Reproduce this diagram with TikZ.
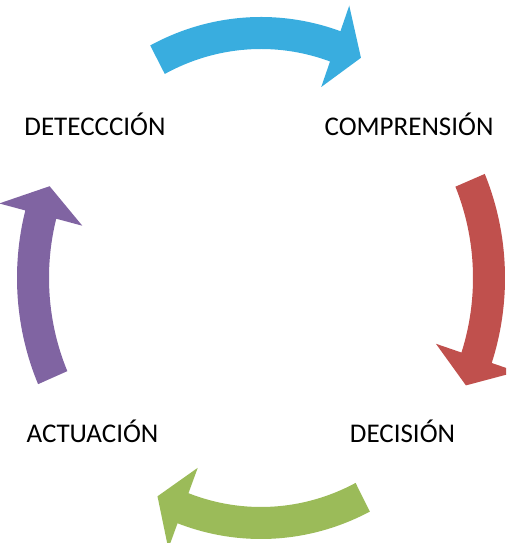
\documentclass[tikz,border=0pt]{standalone}
\usepackage{fontspec}
\setmainfont{Carlito}
\usetikzlibrary{calc}
\definecolor{cycblue}{HTML}{39ADDF}
\definecolor{cycred}{HTML}{C0504D}
\definecolor{cycgreen}{HTML}{9BBB59}
\definecolor{cycpurple}{HTML}{8064A2}
\begin{document}
\begin{tikzpicture}[x=1pt,y=1pt,
  stage/.style={font=\fontsize{27}{31}\selectfont, anchor=base, inner sep=0pt}]
\clip (0,0) rectangle (506,543);
\coordinate (c) at (261,265);

% top arrow
\fill[cycblue] ($(c)+(117:244 and 261)$) arc[start angle=117,end angle=71,x radius=244,y radius=261]
  -- ($(c)+(71:271 and 288)$) -- ($(c)+(64:228 and 245)$) -- ($(c)+(71:185 and 202)$)
  -- ($(c)+(71:212 and 229)$) arc[start angle=71,end angle=117,x radius=212,y radius=229] -- cycle;
% right arrow
\fill[cycred] ($(c)+(23.5:244 and 261)$) arc[start angle=23.5,end angle=-19,x radius=244,y radius=261]
  -- ($(c)+(-19:271 and 288)$) -- ($(c)+(-26:228 and 245)$) -- ($(c)+(-19:185 and 202)$)
  -- ($(c)+(-19:212 and 229)$) arc[start angle=-19,end angle=23.5,x radius=212,y radius=229] -- cycle;
% bottom arrow
\fill[cycgreen] ($(c)+(-63.5:244 and 261)$) arc[start angle=-63.5,end angle=-110,x radius=244,y radius=261]
  -- ($(c)+(-110:271 and 288)$) -- ($(c)+(-117:228 and 245)$) -- ($(c)+(-110:185 and 202)$)
  -- ($(c)+(-110:212 and 229)$) arc[start angle=-110,end angle=-63.5,x radius=212,y radius=229] -- cycle;
% left arrow
\fill[cycpurple] ($(c)+(204:244 and 261)$) arc[start angle=204,end angle=165,x radius=244,y radius=261]
  -- ($(c)+(165:271 and 288)$) -- ($(c)+(158:228 and 245)$) -- ($(c)+(165:185 and 202)$)
  -- ($(c)+(165:212 and 229)$) arc[start angle=165,end angle=204,x radius=212,y radius=229] -- cycle;

\node[stage] (detect) at (95,407) {DETECCCIÓN};
\node[stage] (compr) at (409,407) {COMPRENSIÓN};
\node[stage] (decis) at (402.5,100) {DECISIÓN};
\node[stage] (actua) at (92.5,100) {ACTUACIÓN};
\end{tikzpicture}
\end{document}
